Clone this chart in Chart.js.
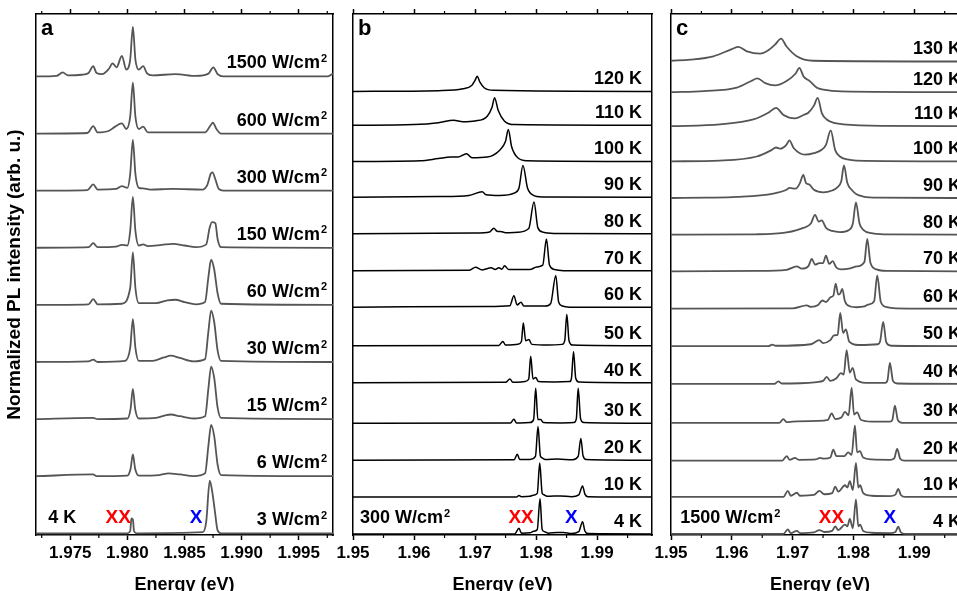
<!DOCTYPE html>
<html lang="en">
<head>
<meta charset="UTF-8">
<title>PL spectra vs power and temperature</title>
<script src="https://cdn.jsdelivr.net/npm/chart.js"></script>
<style>
  html, body { margin: 0; padding: 0; background: #fff; overflow: hidden; }
  body { width: 957px; height: 591px; position: relative; }
  canvas { position: absolute; top: 0; }
</style>
</head>
<body>
<canvas id="panelA" width="345" height="600" style="left:0px"></canvas>
<canvas id="panelB" width="330" height="600" style="left:335px"></canvas>
<canvas id="panelC" width="340" height="600" style="left:655px"></canvas>
<script>
// ---- panel a: power series at 4 K (bottom spectrum first) ----
const powerLabels = ['3 W/cm²', '6 W/cm²', '15 W/cm²', '30 W/cm²', '60 W/cm²', '150 W/cm²', '300 W/cm²', '600 W/cm²', '1500 W/cm²'];
const powerOffsets = [0, 1, 2, 3, 4, 5, 6, 7, 8];
const powerSpectra = [
  [[1.972,0],[1.9800,0],[1.98025,0.04],[1.98035,0.26],[1.98048,0.24],[1.98058,0.04],[1.9808,0],[1.9866,0.02],[1.9869,0.2],[1.98721,0.92],[1.98745,0.7],[1.98765,0.4],[1.9879,0.05],[1.9882,0],[1.998,0]],
  [[1.972,0],[1.9770,0.03],[1.9773,0],[1.9800,0.01],[1.98028,0.13],[1.98048,0.38],[1.98068,0.13],[1.9810,0.01],[1.9828,0.02],[1.9836,0.05],[1.9846,0.03],[1.9858,0],[1.9868,0.05],[1.9871,0.55],[1.98733,0.9],[1.9876,0.7],[1.9879,0.2],[1.9882,0.02],[1.998,0]],
  [[1.972,0],[1.9770,0.02],[1.9774,0],[1.9800,0.01],[1.98028,0.18],[1.98048,0.53],[1.98068,0.18],[1.9810,0.01],[1.9825,0.02],[1.9834,0.07],[1.9838,0.08],[1.9846,0.05],[1.9858,0.01],[1.9868,0.05],[1.9871,0.55],[1.98733,0.92],[1.9876,0.72],[1.9879,0.2],[1.9882,0.02],[1.998,0]],
  [[1.972,0],[1.9766,0.01],[1.97701,0.04],[1.9774,0],[1.9798,0.02],[1.98025,0.25],[1.98048,0.75],[1.9807,0.25],[1.9810,0.02],[1.9822,0.02],[1.9832,0.08],[1.9838,0.11],[1.9846,0.07],[1.9858,0.01],[1.9868,0.05],[1.9871,0.55],[1.98733,0.9],[1.9876,0.7],[1.9879,0.2],[1.9882,0.02],[1.998,0]],
  [[1.972,0],[1.9766,0.01],[1.97701,0.1],[1.9774,0.01],[1.9795,0.02],[1.98025,0.3],[1.98048,0.92],[1.9807,0.3],[1.9810,0.03],[1.98138,0.03],[1.9825,0.03],[1.9835,0.08],[1.9842,0.09],[1.9850,0.05],[1.9860,0.01],[1.9868,0.05],[1.9871,0.5],[1.98733,0.79],[1.9876,0.62],[1.9879,0.2],[1.9882,0.02],[1.998,0]],
  [[1.972,0],[1.9766,0.01],[1.97701,0.08],[1.9774,0.01],[1.9790,0.02],[1.97952,0.05],[1.9800,0.04],[1.98025,0.3],[1.98048,0.89],[1.9807,0.3],[1.9810,0.04],[1.98138,0.06],[1.9818,0.03],[1.9830,0.05],[1.9840,0.07],[1.9850,0.04],[1.9860,0.01],[1.9869,0.06],[1.9872,0.35],[1.9874,0.45],[1.9877,0.43],[1.9879,0.15],[1.9882,0.01],[1.998,0]],
  [[1.972,0],[1.9765,0.01],[1.97701,0.11],[1.9774,0.02],[1.9790,0.03],[1.97952,0.08],[1.9800,0.05],[1.98025,0.3],[1.98048,0.89],[1.9807,0.3],[1.9810,0.05],[1.98135,0.04],[1.9820,0.02],[1.9840,0.03],[1.9866,0.02],[1.9870,0.1],[1.9873,0.3],[1.98745,0.32],[1.9877,0.2],[1.9880,0.03],[1.9884,0],[1.998,0]],
  [[1.972,0],[1.9765,0.01],[1.97701,0.13],[1.9774,0.02],[1.9784,0.05],[1.9787,0.09],[1.97952,0.18],[1.9799,0.08],[1.98025,0.3],[1.98048,0.89],[1.9807,0.3],[1.9810,0.08],[1.98138,0.12],[1.9818,0.02],[1.9843,0.02],[1.9868,0.02],[1.9873,0.15],[1.98748,0.19],[1.9878,0.08],[1.9882,0],[1.998,0]],
  [[1.972,0],[1.9738,0.01],[1.97433,0.07],[1.9748,0.02],[1.9760,0.03],[1.9766,0.06],[1.97701,0.18],[1.9773,0.06],[1.9778,0.04],[1.9784,0.14],[1.9787,0.23],[1.97905,0.16],[1.97952,0.36],[1.9799,0.12],[1.98025,0.3],[1.98048,0.87],[1.9807,0.3],[1.9810,0.12],[1.98138,0.18],[1.9817,0.06],[1.9822,0.02],[1.9842,0.04],[1.9860,0.01],[1.9871,0.05],[1.98752,0.16],[1.9879,0.04],[1.9884,0],[1.9975,0],[1.998,0.05]]
];

// ---- panel b: temperature series at 300 W/cm2 ----
const tempLabelsB = ['4 K', '10 K', '20 K', '30 K', '40 K', '50 K', '60 K', '70 K', '80 K', '90 K', '100 K', '110 K', '120 K'];
const tempOffsetsB = [0, 1.0, 2.0, 3.0, 4.1, 5.1, 6.15, 7.14, 8.14, 9.13, 10.1, 11.08, 12.0];
const tempSpectraB = [
  [[1.95,0],[1.9765,0],[1.9772,0.15],[1.9776,0.02],[1.9790,0.03],[1.9796,0.07],[1.9802,0.12],[1.98065,0.95],[1.9810,0.12],[1.9814,0.06],[1.9820,0.02],[1.9835,0.04],[1.9845,0.04],[1.9858,0.01],[1.9870,0.06],[1.98762,0.33],[1.9880,0.08],[1.9885,0.01],[1.999,0]],
  [[1.95,0],[1.9768,0],[1.9772,0.04],[1.9776,0.01],[1.9790,0.02],[1.9795,0.05],[1.9802,0.1],[1.9806,0.92],[1.9810,0.1],[1.9812,0.07],[1.9818,0.02],[1.9840,0.03],[1.9858,0.01],[1.9870,0.06],[1.98762,0.3],[1.9880,0.08],[1.9885,0.01],[1.999,0]],
  [[1.95,0],[1.9764,0.01],[1.97693,0.16],[1.9773,0.02],[1.9790,0.02],[1.9799,0.1],[1.98032,0.91],[1.9807,0.12],[1.9810,0.06],[1.9815,0.02],[1.9835,0.03],[1.9860,0.01],[1.9869,0.1],[1.98734,0.59],[1.9877,0.12],[1.9882,0.02],[1.999,0]],
  [[1.95,0],[1.9758,0.01],[1.97637,0.11],[1.9768,0.01],[1.9790,0.02],[1.9796,0.1],[1.97994,0.95],[1.9803,0.1],[1.98076,0.1],[1.9812,0.02],[1.9840,0.01],[1.9862,0.02],[1.9866,0.12],[1.9869,0.95],[1.9873,0.12],[1.9878,0.02],[1.999,0]],
  [[1.95,0],[1.9750,0.01],[1.97571,0.1],[1.9762,0.01],[1.9782,0.03],[1.9788,0.1],[1.97912,0.72],[1.9795,0.1],[1.97994,0.14],[1.9804,0.03],[1.9830,0.02],[1.9855,0.03],[1.9858,0.12],[1.98614,0.85],[1.9865,0.12],[1.9870,0.02],[1.999,0]],
  [[1.95,0],[1.9739,0.01],[1.97456,0.12],[1.9750,0.02],[1.9770,0.04],[1.9776,0.12],[1.97791,0.62],[1.9783,0.14],[1.97884,0.17],[1.9793,0.04],[1.9820,0.02],[1.9843,0.04],[1.9847,0.14],[1.98504,0.86],[1.9854,0.14],[1.9860,0.02],[1.999,0]],
  [[1.95,0],[1.9720,0.02],[1.9757,0.04],[1.97637,0.31],[1.9769,0.06],[1.97752,0.13],[1.9780,0.03],[1.9815,0.03],[1.9824,0.1],[1.98323,0.86],[1.9837,0.14],[1.9843,0.03],[1.9855,0],[1.999,0]],
  [[1.95,0],[1.9690,0.01],[1.97007,0.09],[1.9712,0.02],[1.97265,0.08],[1.9733,0.03],[1.9739,0.08],[1.9744,0.04],[1.97484,0.13],[1.9755,0.03],[1.9790,0.03],[1.9801,0.1],[1.9811,0.15],[1.9817,0.86],[1.9822,0.15],[1.9830,0.03],[1.9845,0],[1.999,0]],
  [[1.95,0],[1.9700,0.02],[1.9724,0.05],[1.97308,0.15],[1.9736,0.07],[1.9742,0.06],[1.9750,0.03],[1.9770,0.04],[1.9788,0.14],[1.97966,0.86],[1.9803,0.16],[1.9812,0.04],[1.9830,0.01],[1.999,0]],
  [[1.95,0],[1.9640,0.02],[1.9690,0.05],[1.97117,0.15],[1.9718,0.07],[1.9740,0.05],[1.9765,0.12],[1.9772,0.25],[1.97785,0.86],[1.9786,0.25],[1.9795,0.06],[1.9810,0.01],[1.999,0]],
  [[1.95,0],[1.9610,0.02],[1.9640,0.08],[1.9660,0.12],[1.9672,0.12],[1.9686,0.21],[1.9695,0.1],[1.9720,0.12],[1.9740,0.3],[1.9750,0.55],[1.97545,0.87],[1.9760,0.4],[1.9770,0.1],[1.9785,0.02],[1.999,0]],
  [[1.95,0],[1.9600,0.02],[1.9640,0.07],[1.9665,0.14],[1.9680,0.1],[1.9700,0.12],[1.9720,0.25],[1.9728,0.5],[1.9732,0.75],[1.9738,0.4],[1.9748,0.12],[1.9765,0.02],[1.999,0]],
  [[1.95,0],[1.9640,0.02],[1.9680,0.07],[1.9695,0.17],[1.9700,0.3],[1.97035,0.41],[1.9708,0.25],[1.9715,0.1],[1.9730,0.03],[1.999,0]]
];

// ---- panel c: temperature series at 1500 W/cm2 ----
const tempLabelsC = ['4 K', '10 K', '20 K', '30 K', '40 K', '50 K', '60 K', '70 K', '80 K', '90 K', '100 K', '110 K', '120 K', '130 K'];
const tempOffsetsC = [0, 0.99, 1.96, 2.97, 4.01, 5.02, 6.02, 7.02, 8.0, 8.98, 9.96, 10.9, 11.81, 12.63];
const tempSpectraC = [
  [[1.95,0],[1.9685,0],[1.9692,0.12],[1.9697,0.02],[1.9707,0.08],[1.9712,0.02],[1.9735,0.04],[1.9744,0.1],[1.9752,0.05],[1.9765,0.08],[1.9770,0.2],[1.9775,0.1],[1.9786,0.25],[1.9790,0.2],[1.9794,0.4],[1.9799,0.15],[1.98041,0.92],[1.9808,0.2],[1.9811,0.25],[1.9816,0.08],[1.9830,0.03],[1.9860,0.02],[1.9869,0.05],[1.98736,0.19],[1.9878,0.04],[1.9885,0],[1.999,0]],
  [[1.95,0],[1.9685,0],[1.9692,0.16],[1.9697,0.03],[1.9707,0.11],[1.9712,0.03],[1.9735,0.05],[1.9744,0.16],[1.9752,0.07],[1.9765,0.1],[1.9770,0.27],[1.9775,0.14],[1.9786,0.31],[1.9790,0.25],[1.9794,0.42],[1.9799,0.18],[1.98041,0.91],[1.9808,0.25],[1.9811,0.31],[1.9816,0.1],[1.9830,0.03],[1.9860,0.02],[1.9869,0.06],[1.98736,0.21],[1.9878,0.05],[1.9885,0],[1.999,0]],
  [[1.95,0],[1.9683,0],[1.96903,0.12],[1.9695,0.02],[1.97039,0.07],[1.9710,0.02],[1.9738,0.03],[1.9745,0.07],[1.9752,0.05],[1.9762,0.08],[1.97668,0.29],[1.9772,0.12],[1.9785,0.12],[1.97914,0.22],[1.9797,0.15],[1.98024,0.94],[1.9806,0.22],[1.98107,0.25],[1.9816,0.08],[1.9830,0.03],[1.9860,0.02],[1.9867,0.06],[1.98719,0.31],[1.9877,0.05],[1.9884,0],[1.999,0]],
  [[1.95,0],[1.9678,0],[1.96847,0.1],[1.9690,0.02],[1.9700,0.03],[1.9740,0.05],[1.9758,0.08],[1.97642,0.25],[1.9770,0.1],[1.9780,0.14],[1.9786,0.29],[1.9792,0.2],[1.9797,0.94],[1.9801,0.22],[1.98062,0.28],[1.9812,0.08],[1.9830,0.03],[1.9860,0.03],[1.9864,0.08],[1.98681,0.46],[1.9873,0.07],[1.9880,0],[1.999,0]],
  [[1.95,0],[1.9670,0],[1.96765,0.07],[1.9682,0.01],[1.9740,0.05],[1.9750,0.08],[1.9756,0.19],[1.9762,0.08],[1.9772,0.15],[1.97795,0.29],[1.9784,0.25],[1.97888,0.9],[1.9794,0.3],[1.97987,0.43],[1.9804,0.12],[1.9820,0.03],[1.9852,0.03],[1.9856,0.1],[1.98599,0.56],[1.9865,0.08],[1.9872,0.01],[1.999,0]],
  [[1.95,0],[1.9660,0],[1.96667,0.04],[1.9672,0.01],[1.9730,0.05],[1.97438,0.16],[1.9750,0.08],[1.9762,0.16],[1.9768,0.29],[1.9774,0.3],[1.97783,0.89],[1.9783,0.35],[1.97877,0.45],[1.9793,0.12],[1.9808,0.03],[1.9840,0.05],[1.9844,0.14],[1.98489,0.65],[1.9854,0.1],[1.9862,0.01],[1.999,0]],
  [[1.95,0],[1.9700,0.01],[1.97231,0.09],[1.9730,0.05],[1.9742,0.1],[1.97488,0.22],[1.9755,0.18],[1.97626,0.31],[1.9767,0.35],[1.97708,0.67],[1.9775,0.38],[1.9778,0.4],[1.97816,0.53],[1.9786,0.2],[1.9795,0.06],[1.9805,0.04],[1.9818,0.06],[1.98243,0.11],[1.9834,0.2],[1.98391,0.89],[1.9845,0.18],[1.9855,0.04],[1.9870,0.01],[1.999,0]],
  [[1.95,0],[1.9640,0.01],[1.9690,0.04],[1.97067,0.13],[1.9715,0.07],[1.9726,0.14],[1.97314,0.33],[1.9737,0.18],[1.97438,0.22],[1.9750,0.22],[1.97548,0.42],[1.9760,0.2],[1.97658,0.27],[1.9772,0.1],[1.97806,0.05],[1.9795,0.08],[1.98053,0.13],[1.9818,0.25],[1.98227,0.87],[1.9828,0.22],[1.9838,0.05],[1.9855,0.01],[1.999,0]],
  [[1.95,0],[1.9640,0.01],[1.96903,0.06],[1.97176,0.18],[1.9730,0.3],[1.97368,0.53],[1.9743,0.35],[1.97478,0.38],[1.9755,0.18],[1.9765,0.1],[1.97778,0.07],[1.9792,0.12],[1.9799,0.3],[1.98041,0.86],[1.9810,0.3],[1.98161,0.13],[1.9830,0.04],[1.9850,0.01],[1.999,0]],
  [[1.95,0],[1.9560,0.01],[1.96082,0.03],[1.96683,0.12],[1.9690,0.22],[1.96946,0.27],[1.9705,0.25],[1.9712,0.4],[1.97176,0.62],[1.9722,0.4],[1.97274,0.36],[1.9735,0.22],[1.97504,0.15],[1.9765,0.2],[1.97724,0.27],[1.9780,0.45],[1.97844,0.87],[1.9790,0.4],[1.9797,0.22],[1.9805,0.1],[1.98161,0.04],[1.9840,0.01],[1.999,0]],
  [[1.95,0],[1.9580,0.02],[1.9641,0.13],[1.9665,0.3],[1.96727,0.37],[1.9680,0.34],[1.9690,0.45],[1.96946,0.56],[1.9702,0.35],[1.97204,0.18],[1.9735,0.22],[1.97478,0.31],[1.9755,0.45],[1.97626,0.83],[1.9770,0.3],[1.97778,0.13],[1.9790,0.05],[1.98053,0.02],[1.999,0]],
  [[1.95,0],[1.95808,0.05],[1.96355,0.18],[1.9660,0.36],[1.96727,0.49],[1.9685,0.3],[1.97039,0.21],[1.9718,0.3],[1.97258,0.36],[1.9735,0.55],[1.97412,0.76],[1.9748,0.35],[1.9756,0.18],[1.9770,0.08],[1.97832,0.05],[1.9850,0.01],[1.999,0]],
  [[1.95,0],[1.95534,0.03],[1.96082,0.12],[1.9632,0.3],[1.9642,0.37],[1.9655,0.24],[1.96711,0.18],[1.9690,0.3],[1.9705,0.5],[1.9711,0.65],[1.9718,0.42],[1.97286,0.29],[1.9740,0.12],[1.97504,0.07],[1.9780,0.02],[1.999,0]],
  [[1.95,0.02],[1.95315,0.05],[1.95698,0.14],[1.9600,0.33],[1.96108,0.39],[1.9625,0.27],[1.96465,0.21],[1.9660,0.3],[1.9671,0.45],[1.9681,0.61],[1.9690,0.4],[1.97067,0.14],[1.97335,0.02],[1.999,0]]
];

// ---- axis ticks ----
const ticksA = [1.975, 1.980, 1.985, 1.990, 1.995];
const minorA = [1.9725, 1.9775, 1.9825, 1.9875, 1.9925, 1.9975];
const ticksBC = [1.95, 1.96, 1.97, 1.98, 1.99];
const minorBC = [1.955, 1.965, 1.975, 1.985, 1.995];

const FONT = '"Liberation Sans", Arial, sans-serif';

function drawText(ctx, text, x, yBase, align, size, color) {
  const sup = text.endsWith('²');
  const main = sup ? text.slice(0, -1) : text;
  ctx.font = 'bold ' + size + 'px ' + FONT;
  const wMain = ctx.measureText(main).width;
  const supFont = 'bold ' + Math.round(size * 0.6) + 'px ' + FONT;
  ctx.font = supFont;
  const wSup = sup ? ctx.measureText('2').width + 1 : 0;
  let left = x;
  if (align === 'right') left = x - wMain - wSup;
  if (align === 'center') left = x - (wMain + wSup) / 2;
  ctx.fillStyle = color;
  ctx.textAlign = 'left';
  ctx.textBaseline = 'alphabetic';
  ctx.font = 'bold ' + size + 'px ' + FONT;
  ctx.fillText(main, left, yBase);
  if (sup) {
    ctx.font = supFont;
    ctx.fillText('2', left + wMain + 1, yBase - size * 0.36);
  }
}

function decor(p) {
  return {
    id: 'decor' + p.letter,
    afterDraw(chart) {
      const { ctx, chartArea: area, scales: { x, y } } = chart;
      ctx.save();
      ctx.strokeStyle = '#000';
      ctx.lineWidth = 1.2;
      p.minor.forEach(v => {
        const px = x.getPixelForValue(v);
        ctx.beginPath();
        ctx.moveTo(px, area.bottom); ctx.lineTo(px, area.bottom + 3);
        ctx.moveTo(px, area.top); ctx.lineTo(px, area.top - 3);
        ctx.stroke();
      });
      drawText(ctx, p.letter, area.left + 5, area.top + 21, 'left', 22, '#000');
      p.labels.forEach((t, i) => {
        const py = y.getPixelForValue(p.offsets[i]) - p.lift;
        drawText(ctx, t, area.right - p.inset, py, 'right', 18, '#000');
      });
      p.notes.forEach(n => {
        drawText(ctx, n.text, x.getPixelForValue(n.e), area.bottom - 12, n.align, n.size, n.color);
      });
      ctx.restore();
    }
  };
}

function makePanel(id, p) {
  const datasets = p.spectra.map((pts, i) => ({
    data: pts.map(([e, h]) => ({ x: e, y: h + p.offsets[i] })),
    borderColor: p.color,
    borderWidth: p.lineWidth,
    pointRadius: 0,
    cubicInterpolationMode: 'monotone',
    fill: false
  }));
  const fixX = h => s => { s.height = h; s.paddingLeft = 0; s.paddingRight = 0; };
  const fixY = w => s => { s.width = w; s.paddingTop = 0; s.paddingBottom = 0; };
  const setTicks = s => { s.ticks = p.ticks.map(v => ({ value: v })); };
  const border = { display: true, color: '#000', width: 1.5 };
  const tickGrid = { drawOnChartArea: false, tickLength: 5, tickWidth: 1.5, tickColor: '#000' };

  new Chart(document.getElementById(id), {
    type: 'line',
    data: { datasets },
    options: {
      responsive: false,
      animation: false,
      devicePixelRatio: 1,
      layout: { padding: p.padding },
      plugins: { legend: { display: false }, tooltip: { enabled: false } },
      scales: {
        x: {
          type: 'linear', position: 'bottom', min: p.xMin, max: p.xMax,
          afterBuildTicks: setTicks, afterFit: fixX(65),
          ticks: { callback: v => v.toFixed(p.digits), color: '#000', font: { family: FONT, size: 17, weight: 'bold' }, padding: 3, maxRotation: 0, autoSkip: false },
          grid: tickGrid, border,
          title: { display: true, text: 'Energy (eV)', color: '#000', font: { family: FONT, size: 18, weight: 'bold' }, padding: { top: 0, bottom: 4 } }
        },
        xTop: {
          type: 'linear', position: 'top', min: p.xMin, max: p.xMax,
          afterBuildTicks: setTicks, afterFit: fixX(6),
          ticks: { display: false }, grid: tickGrid, border
        },
        y: {
          type: 'linear', position: 'left', min: p.yMin, max: p.yMax,
          afterFit: fixY(p.leftWidth),
          ticks: { display: false }, grid: { display: false }, border,
          title: p.yTitle
            ? { display: true, text: p.yTitle, color: '#000', font: { family: FONT, size: 19, weight: 'bold' }, padding: { top: 3, bottom: 0 } }
            : { display: false }
        },
        yR: {
          type: 'linear', position: 'right', min: p.yMin, max: p.yMax,
          afterFit: fixY(0),
          ticks: { display: false }, grid: { display: false }, border
        }
      }
    },
    plugins: [decor(p)]
  });
}

makePanel('panelA', {
  letter: 'a', spectra: powerSpectra, offsets: powerOffsets, labels: powerLabels,
  xMin: 1.972, xMax: 1.998, yMin: -0.03, yMax: 9.094, digits: 3,
  ticks: ticksA, minor: minorA, color: '#555555', lineWidth: 1.8,
  leftWidth: 36, padding: { left: 0, right: 12, top: 8, bottom: 0 },
  yTitle: 'Normalized PL intensity (arb. u.)', lift: 8, inset: 6,
  notes: [
    { text: '4 K', e: 1.9743, color: '#000', align: 'center', size: 18 },
    { text: 'XX', e: 1.9792, color: '#ff0000', align: 'center', size: 19 },
    { text: 'X', e: 1.98601, color: '#0000ff', align: 'center', size: 19 }
  ]
});

makePanel('panelB', {
  letter: 'b', spectra: tempSpectraB, offsets: tempOffsetsB, labels: tempLabelsB,
  xMin: 1.95, xMax: 1.999, yMin: -0.03, yMax: 14.10, digits: 2,
  ticks: ticksBC, minor: minorBC, color: '#000000', lineWidth: 1.5,
  leftWidth: 18, padding: { left: 0, right: 13, top: 8, bottom: 0 },
  yTitle: null, lift: 7, inset: 10,
  notes: [
    { text: '300 W/cm²', e: 1.95115, color: '#000', align: 'left', size: 18 },
    { text: 'XX', e: 1.97755, color: '#ff0000', align: 'center', size: 19 },
    { text: 'X', e: 1.98578, color: '#0000ff', align: 'center', size: 19 }
  ]
});

makePanel('panelC', {
  letter: 'c', spectra: tempSpectraC, offsets: tempOffsetsC, labels: tempLabelsC,
  xMin: 1.95, xMax: 1.999, yMin: -0.03, yMax: 13.90, digits: 2,
  ticks: ticksBC, minor: minorBC, color: '#555555', lineWidth: 1.8,
  leftWidth: 16, padding: { left: 0, right: 26, top: 8, bottom: 0 },
  yTitle: null, lift: 7, inset: 8,
  notes: [
    { text: '1500 W/cm²', e: 1.95151, color: '#000', align: 'left', size: 18 },
    { text: 'XX', e: 1.97639, color: '#ff0000', align: 'center', size: 19 },
    { text: 'X', e: 1.98600, color: '#0000ff', align: 'center', size: 19 }
  ]
});
</script>
</body>
</html>
